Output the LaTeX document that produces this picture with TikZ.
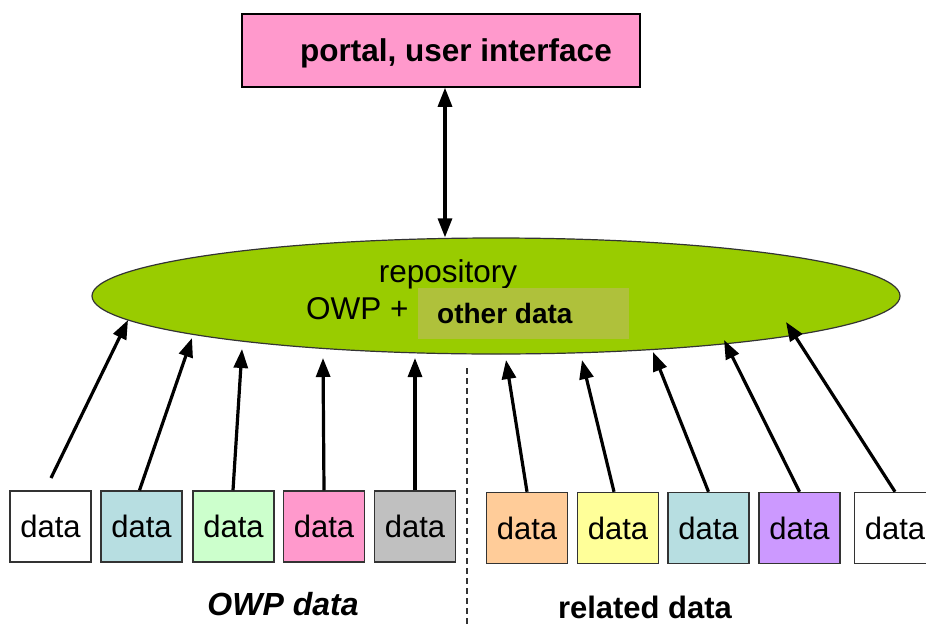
\documentclass[tikz,border=0pt]{standalone}
\usepackage{fontspec}
\setmainfont{Liberation Sans}
\usetikzlibrary{arrows.meta,shapes.geometric}
\definecolor{pinkbox}{HTML}{FF99CC}
\definecolor{repogreen}{HTML}{99CC00}
\definecolor{olivebox}{HTML}{AFC13B}
\definecolor{tealbox}{HTML}{B7DEE1}
\definecolor{mintbox}{HTML}{CCFFCC}
\definecolor{greybox}{HTML}{C0C0C0}
\definecolor{peachbox}{HTML}{FFCC99}
\definecolor{lemonbox}{HTML}{FFFF99}
\definecolor{lilacbox}{HTML}{CC99FF}
\definecolor{edge}{HTML}{333333}
\tikzset{
  bigtxt/.style={font=\fontsize{31.5}{36}\selectfont, inner sep=0pt},
  boldtxt/.style={font=\fontsize{31.5}{36}\selectfont\bfseries, inner sep=0pt},
  databox/.style={draw=edge, line width=1.5pt, minimum width=81pt, minimum height=71pt,
     inner sep=0pt, font=\fontsize{31}{36}\selectfont},
  arr/.style={line width=3.2pt, -{Triangle[length=19pt,width=14pt]}},
  dblarr/.style={line width=3.2pt, {Triangle[length=19pt,width=14pt]}-{Triangle[length=19pt,width=14pt]}},
}
\begin{document}
\begin{tikzpicture}[x=1pt,y=-1pt]
\useasboundingbox (0,0) rectangle (926,624);
\fill[white] (0,0) rectangle (926,624);

% portal box
\node[draw=black, line width=1.5pt, fill=pinkbox, minimum width=398pt, minimum height=73pt, inner sep=0pt]
  (portal) at (441,50.5) {};
\node[boldtxt, anchor=base] (ptitle) at (456,61) {portal, user interface};

% repository ellipse
\node[ellipse, draw=edge, line width=1.2pt, fill=repogreen, minimum width=808pt, minimum height=116pt, inner sep=0pt]
  (repo) at (496,296) {};
\node[bigtxt, anchor=base] (repotxt) at (448,282) {repository};
\node[bigtxt, anchor=base west] (owp) at (306,319) {OWP +};
\node[fill=olivebox, minimum width=211pt, minimum height=51pt, inner sep=0pt] (otherbg) at (523.5,313.5) {};
\node[font=\fontsize{28}{34}\selectfont\bfseries, inner sep=0pt, anchor=base west] (other) at (437,323) {other data};

% double arrow
\coordinate (dbl) at (445,0);
\draw[dblarr] (portal.south -| dbl) -- (repo.north -| dbl);

% data boxes
\node[databox, fill=white]     (d1)  at (50.5,526.5) {data};
\node[databox, fill=tealbox]   (d2)  at (141.5,526.5) {data};
\node[databox, fill=mintbox]   (d3)  at (233.5,526.5) {data};
\node[databox, fill=pinkbox]   (d4)  at (324,526.5) {data};
\node[databox, fill=greybox]   (d5)  at (415,526.5) {data};
\node[databox, fill=peachbox]  (d6)  at (527,528) {data};
\node[databox, fill=lemonbox]  (d7)  at (618,528) {data};
\node[databox, fill=tealbox]   (d8)  at (708.5,528) {data};
\node[databox, fill=lilacbox]  (d9)  at (799.5,528) {data};
\node[databox, fill=white]     (d10) at (895,528) {data};

% arrow tips
\coordinate (t1) at (128,320);
\coordinate (t2) at (192,338);
\coordinate (t3) at (242,349);
\coordinate (t4) at (323,358);
\coordinate (t5) at (415,358);
\coordinate (t6) at (506,360);
\coordinate (t7) at (582,360);
\coordinate (t8) at (653,352);
\coordinate (t9) at (724,340);
\coordinate (t10) at (786,322);

\coordinate (s1) at (51,478);
\draw[arr] (s1) -- (t1);
\draw[arr] ([xshift=-2pt]d2.north) -- (t2);
\draw[arr] ([xshift=-0.5pt]d3.north) -- (t3);
\draw[arr] (d4.north) -- (t4);
\draw[arr] (d5.north) -- (t5);
\draw[arr] (d6.north) -- (t6);
\draw[arr] ([xshift=-4pt]d7.north) -- (t7);
\draw[arr] (d8.north) -- (t8);
\draw[arr] (d9.north) -- (t9);
\draw[arr] (d10.north) -- (t10);

% divider
\coordinate (divtop) at (467,368);
\coordinate (divbot) at (467,624);
\draw[edge, line width=1.5pt, dash pattern=on 6pt off 4pt] (divtop) -- (divbot);

% group labels
\node[boldtxt, font=\fontsize{32}{36}\selectfont\bfseries\itshape, anchor=base] (owplbl) at (283,615) {OWP data};
\node[boldtxt, font=\fontsize{31}{36}\selectfont\bfseries, anchor=base] (rellbl) at (645,618) {related data};
\end{tikzpicture}
\end{document}
